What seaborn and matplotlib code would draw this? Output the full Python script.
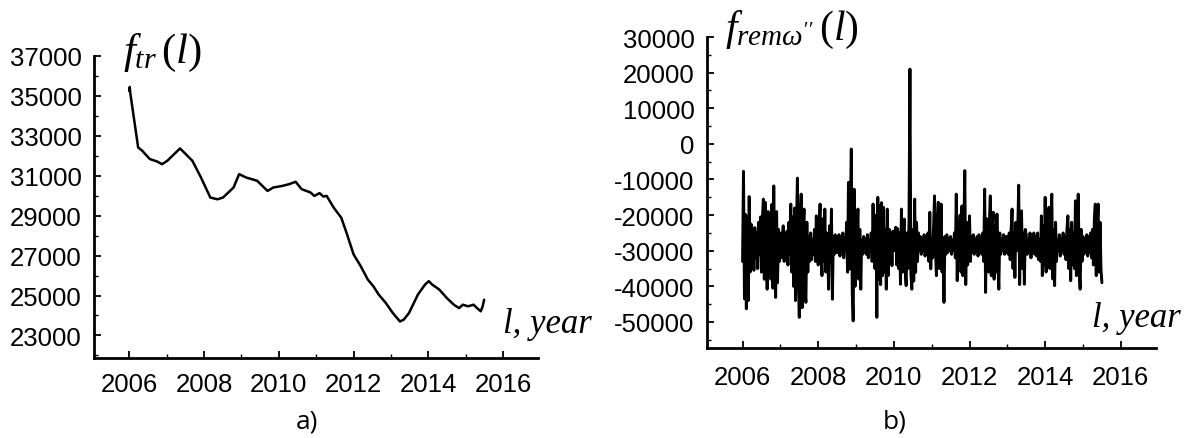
import numpy as np
import pandas as pd
import matplotlib
matplotlib.use("Agg")
import matplotlib.pyplot as plt
import seaborn as sns
from matplotlib.ticker import MultipleLocator, FixedLocator

# ---------------- data ----------------
# a) trend component f_tr(l)
tr_years = [2006.00, 2006.015, 2006.03, 2006.24, 2006.35, 2006.55, 2006.74, 2006.88,
            2007.02, 2007.36, 2007.69, 2007.91, 2008.17, 2008.36, 2008.51, 2008.79,
            2008.94, 2009.13, 2009.42, 2009.70, 2009.85, 2010.09, 2010.28, 2010.45,
            2010.61, 2010.85, 2010.95, 2011.09, 2011.19, 2011.28, 2011.47, 2011.67,
            2011.81, 2012.00, 2012.19, 2012.38, 2012.53, 2012.67, 2012.86, 2013.05,
            2013.24, 2013.34, 2013.48, 2013.72, 2013.91, 2014.01, 2014.10, 2014.29,
            2014.49, 2014.68, 2014.82, 2014.92, 2015.06, 2015.21, 2015.30, 2015.40,
            2015.45, 2015.49]
tr_values = [35250, 35450, 35150, 32420, 32250, 31840, 31720, 31580,
             31750, 32370, 31750, 30950, 29910, 29820, 29910, 30410,
             31080, 30910, 30750, 30240, 30410, 30490, 30580, 30700,
             30330, 30160, 29990, 30130, 29960, 29990, 29400, 28900,
             28150, 27060, 26470, 25800, 25460, 25050, 24630, 24120,
             23700, 23790, 24120, 25050, 25550, 25720, 25550, 25300,
             24880, 24540, 24370, 24540, 24460, 24540, 24370, 24210,
             24460, 24790]

# b) remainder f_remω''(l), sampled every 0.025 year from 2006.0
rem_start = 2006.0
rem_step = 0.025
rem_values = [
    # 2006.00
    -33000, -7700, -43500, -19800, -46300, -20500, -44000, -14800, -36000, -22500,
    # 2006.25
    -33500, -24000, -35500, -23500, -32000, -25000, -35000, -22000, -31000, -20500,
    # 2006.50
    -36000, -21000, -15500, -38000, -16400, -27000, -40800, -19000, -37000, -22000,
    # 2006.75
    -38000, -17000, -40500, -11800, -36000, -43100, -19000, -39000, -24000, -33000,
    # 2007.00
    -25000, -32000, -27000, -23000, -33000, -26000, -31000, -24500, -34000, -22000,
    # 2007.25
    -31000, -16900, -36000, -20500, -40000, -18000, -44000, -23000, -9600, -38000,
    # 2007.50
    -48700, -21000, -14100, -46000, -24000, -18300, -41000, -44500, -22000, -36000,
    # 2007.75
    -26000, -33000, -25000, -32500, -27000, -31000, -24000, -33000, -20200, -30000,
    # 2008.00
    -34000, -22000, -16900, -31000, -37000, -21000, -33000, -18300, -36000, -25000,
    # 2008.25
    -30000, -40800, -23000, -33000, -18300, -43600, -26000, -31000, -25500, -30500,
    # 2008.50
    -26000, -30500, -25500, -31500, -27000, -30000, -25000, -32000, -26500, -30000,
    # 2008.75
    -22000, -36000, -10800, -35200, -18000, -1450, -42000, -49700, -12700, -40000,
    # 2009.00
    -33000, -25000, -18300, -38000, -24000, -40800, -27000, -31000, -26000, -30500,
    # 2009.25
    -26500, -31000, -25500, -32000, -27000, -30000, -25000, -33000, -16900, -31000,
    # 2009.50
    -35000, -20000, -48700, -15000, -38000, -17400, -39500, -16500, -37000, -17800,
    # 2009.75
    -36000, -24000, -40800, -18300, -37000, -24000, -33000, -26000, -34200, -24500,
    # 2010.00
    -30000, -26000, -23400, -34000, -23800, -35000, -25000, -39400, -18300, -36000,
    # 2010.25
    -24000, -21100, -36000, -39800, -25000, -35000, -22000, 21000, -36500, -40800,
    # 2010.50
    -24000, -38500, -15500, -36100, -22000, -33000, -25000, -30000, -26000, -31000,
    # 2010.75
    -26500, -30000, -25500, -31500, -27000, -30500, -25000, -33000, -19200, -35100,
    # 2011.00
    -27000, -32000, -23000, -14600, -30000, -37000, -22000, -16400, -35000, -27000,
    # 2011.25
    -16900, -36000, -28000, -44500, -26000, -31000, -25500, -30500, -26500, -30000,
    # 2011.50
    -26000, -31000, -27000, -30000, -25000, -32000, -14100, -38400, -22000, -33000,
    # 2011.75
    -20000, -36000, -17400, -37000, -24000, -7500, -39500, -22000, -34000, -30000,
    # 2012.00
    -20200, -33000, -26000, -30500, -25500, -31000, -27000, -30000, -26000, -31500,
    # 2012.25
    -25500, -30000, -27000, -31000, -25000, -33000, -12700, -41700, -21000, -35000,
    # 2012.50
    -36000, -22000, -14600, -37000, -24000, -19200, -38000, -23000, -36000, -19700,
    # 2012.75
    -33000, -40800, -25000, -31000, -26500, -30000, -25500, -31000, -26000, -30500,
    # 2013.00
    -26000, -31000, -25000, -32500, -24000, -18300, -35000, -25000, -37500, -22000,
    # 2013.25
    -30000, -24000, -11600, -39500, -23000, -18800, -35000, -25000, -39400, -24000,
    # 2013.50
    -25500, -31000, -27000, -30000, -25000, -32000, -26500, -30500, -25000, -31000,
    # 2013.75
    -26000, -31500, -25000, -32500, -27000, -33000, -20200, -37000, -23000, -34000,
    # 2014.00
    -15000, -36000, -22000, -33000, -17800, -35000, -21000, -14100, -37900, -24000,
    # 2014.25
    -39800, -22000, -33000, -27000, -30000, -25500, -31500, -26500, -30000, -25000,
    # 2014.50
    -31000, -26000, -32500, -24000, -20200, -35000, -24000, -38400, -22000, -34000,
    # 2014.75
    -25000, -35000, -16000, -37000, -21000, -14100, -36000, -40800, -24000, -33000,
    # 2015.00
    -26000, -31000, -27000, -30000, -25500, -31500, -26000, -30500, -25000, -32000,
    # 2015.25 .. 2015.50
    -24000, -34000, -21000, -16900, -37000, -23000, -16900, -36000, -22000, -35000,
    -39000,
]

x_major = [2006, 2008, 2010, 2012, 2014, 2016]
y_major_tr = [23000, 25000, 27000, 29000, 31000, 33000, 35000, 37000]
y_major_rem = [-50000, -40000, -30000, -20000, -10000, 0, 10000, 20000, 30000]

df_tr = pd.DataFrame({"year": tr_years, "value": tr_values})
rem_years = rem_start + rem_step * np.arange(len(rem_values))
df_rem = pd.DataFrame({"year": rem_years, "value": rem_values})

# ---------------- style ----------------
sns.set_theme(style="ticks")
plt.rcParams["font.family"] = ["Liberation Sans", "DejaVu Sans"]
plt.rcParams["axes.unicode_minus"] = False
plt.rcParams["mathtext.fontset"] = "custom"
plt.rcParams["mathtext.it"] = "Liberation Serif:italic"
plt.rcParams["mathtext.rm"] = "Liberation Serif"
plt.rcParams["mathtext.bf"] = "Liberation Serif:bold"

W, H = 1189, 439
fig = plt.figure(figsize=(W / 100, H / 100), dpi=100)
ax1 = fig.add_axes([94 / W, 1 - 359 / H, (538 - 94) / W, (359 - 57) / H])
ax2 = fig.add_axes([707 / W, 1 - 349 / H, (1156 - 707) / W, (349 - 38) / H])

sns.lineplot(data=df_tr, x="year", y="value", ax=ax1, color="black", linewidth=1.8)
sns.lineplot(data=df_rem, x="year", y="value", ax=ax2, color="black", linewidth=2.1)

ax1.set_xlim(2005.06, 2016.93)
ax1.set_ylim(21870, 37000)
ax2.set_xlim(2005.06, 2016.93)
ax2.set_ylim(-57300, 30000)

for ax, ymaj, yminor, xpad, in ((ax1, y_major_tr, 1000, 10), (ax2, y_major_rem, 5000, 12)):
    ax.set_xlabel("")
    ax.set_ylabel("")
    ax.grid(False)
    ax.set_facecolor("white")
    for s in ("top", "right"):
        ax.spines[s].set_visible(False)
    for s in ("left", "bottom"):
        ax.spines[s].set_linewidth(2)
        ax.spines[s].set_color("black")
    ax.xaxis.set_major_locator(FixedLocator(x_major))
    ax.xaxis.set_minor_locator(MultipleLocator(1))
    ax.yaxis.set_major_locator(FixedLocator(ymaj))
    ax.yaxis.set_minor_locator(MultipleLocator(yminor))
    ax.set_xticklabels([str(v) for v in x_major])
    ax.set_yticklabels([str(v) for v in ymaj])
    ax.tick_params(axis="both", which="major", direction="in", length=5, width=1.3,
                   labelsize=18.5, colors="black")
    ax.tick_params(axis="both", which="minor", direction="in", length=3, width=1.0,
                   colors="black")
    ax.tick_params(axis="y", which="major", pad=9)
    ax.tick_params(axis="x", which="major", pad=xpad)

fig.text(123 / W, 1 - 63 / H, r"$f_{tr}\,\mathrm{(}l\mathrm{)}$", fontsize=31,
         ha="left", va="baseline", color="black")
fig.text(725 / W, 1 - 40 / H, r"$f_{rem\omega''}\,\mathrm{(}l\mathrm{)}$", fontsize=30,
         ha="left", va="baseline", color="black")
fig.text(503 / W, 1 - 333 / H, "l, year", fontsize=25, family="Liberation Serif",
         style="italic", ha="left", va="baseline", color="black")
fig.text(1092 / W, 1 - 327 / H, "l, year", fontsize=25, family="Liberation Serif",
         style="italic", ha="left", va="baseline", color="black")
fig.text(307 / W, 1 - 422 / H, "a)", fontsize=19, family="Open Sans",
         ha="center", va="center", color="black")
fig.text(895 / W, 1 - 422 / H, "b)", fontsize=19, family="Open Sans",
         ha="center", va="center", color="black")

fig.savefig("out.png", dpi=100, facecolor="white")
